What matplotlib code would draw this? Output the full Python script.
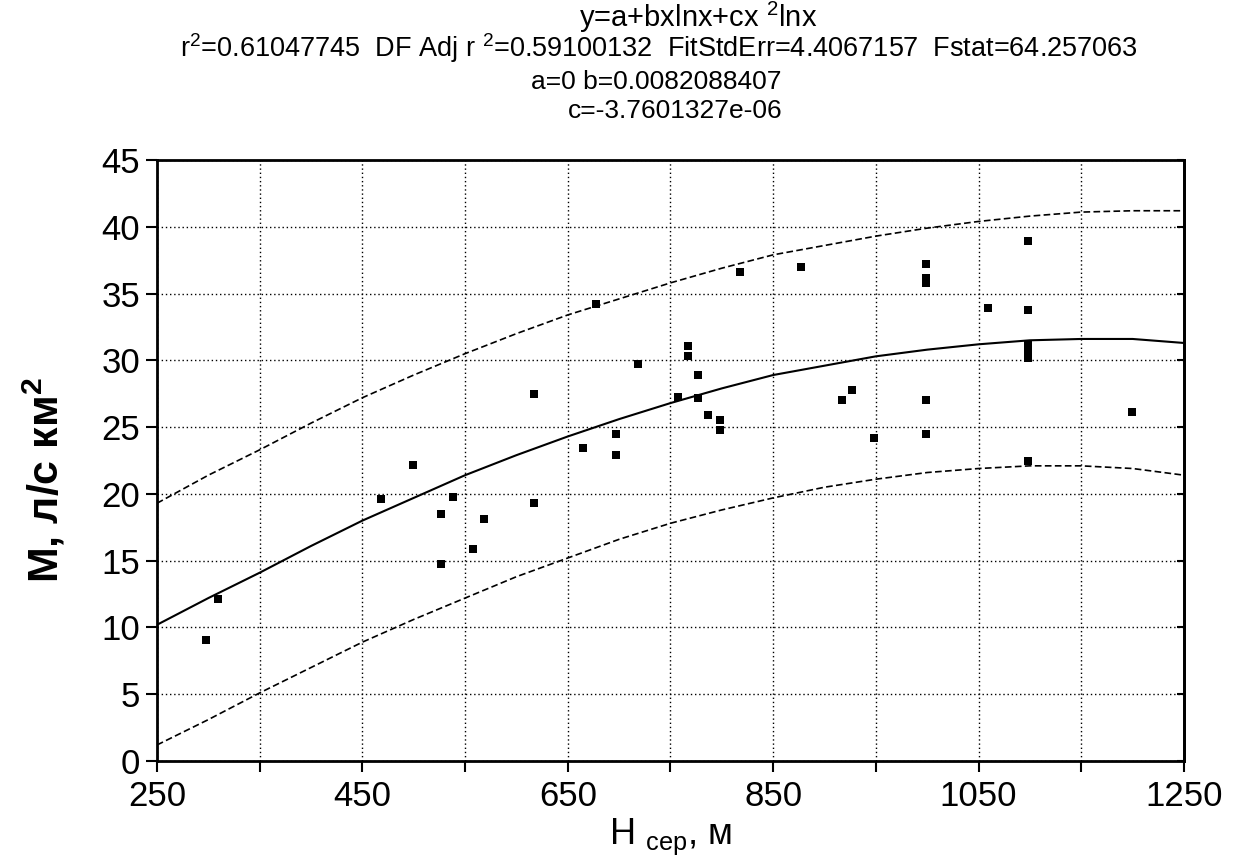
import numpy as np
import matplotlib
matplotlib.use("Agg")
import matplotlib.pyplot as plt

plt.rcParams['font.family'] = ['Liberation Sans', 'DejaVu Sans']
plt.rcParams['mathtext.fontset'] = 'custom'
plt.rcParams['mathtext.rm'] = 'Liberation Sans'
plt.rcParams['mathtext.it'] = 'Liberation Sans'
plt.rcParams['mathtext.bf'] = 'Liberation Sans:bold'

# observed points: H (m) vs M (l/s km2)
h_obs = [298, 309, 468, 499, 527, 527, 538, 558, 568, 617, 617, 665, 697, 697,
         677, 718, 757, 767, 767, 777, 777, 787, 798, 798, 818, 877, 917, 927,
         948, 999, 999, 999, 999, 999, 1059, 1098, 1098, 1098, 1098, 1098, 1098,
         1199]
m_obs = [9.05, 12.13, 19.65, 22.2, 18.5, 14.75, 19.8, 15.9, 18.1, 27.45, 19.3,
         23.4, 24.5, 22.9, 34.2, 29.76, 27.25, 31.1, 30.3, 28.9, 27.2, 25.9,
         25.5, 24.8, 36.6, 37.0, 27.0, 27.8, 24.2, 37.2, 36.2, 35.8, 27.0, 24.5,
         33.9, 38.9, 33.8, 31.2, 30.6, 30.2, 22.5, 26.1]

# fitted curve and band
h_fit = [250, 300, 350, 400, 450, 500, 550, 600, 650, 700, 750, 800, 850, 900,
         950, 1000, 1050, 1100, 1150, 1200, 1250]
m_fit = [10.2, 12.2, 14.1, 16.1, 18.0, 19.7, 21.4, 22.9, 24.3, 25.6, 26.8, 27.9,
         28.9, 29.6, 30.3, 30.8, 31.2, 31.5, 31.6, 31.6, 31.3]
m_upper = [19.3, 21.4, 23.3, 25.3, 27.2, 28.9, 30.5, 32.0, 33.4, 34.6, 35.8,
           36.9, 37.9, 38.6, 39.3, 39.9, 40.4, 40.8, 41.1, 41.2, 41.2]
m_lower = [1.2, 3.1, 5.1, 7.0, 8.9, 10.6, 12.2, 13.8, 15.2, 16.6, 17.8, 18.8,
           19.7, 20.5, 21.1, 21.6, 21.9, 22.1, 22.1, 21.9, 21.4]

W, H = 1236, 858
fig = plt.figure(figsize=(W / 100, H / 100), dpi=100)
ax = fig.add_axes([157 / W, (H - 761) / H, (1184 - 157) / W, (761 - 160) / H])

ax.plot(h_fit, m_upper, color='black', lw=1.2, ls=(0, (4, 2)))
ax.plot(h_fit, m_lower, color='black', lw=1.2, ls=(0, (4, 2)))
ax.plot(h_fit, m_fit, color='black', lw=1.5)
ax.plot(h_obs, m_obs, 's', color='black', ms=5.5, mew=0)

ax.set_xlim(250, 1250)
ax.set_ylim(0, 45)
ax.set_xticks(np.arange(250, 1251, 100))
ax.set_xticklabels(['250', '', '450', '', '650', '', '850', '', '1050', '', '1250'])
ax.set_yticks(np.arange(0, 46, 5))
ax.grid(True, color='black', ls=(0, (1, 2)), lw=1.0)
ax.tick_params(axis='both', labelsize=25, length=8, width=1.5, color='black')
ax.tick_params(axis='x', pad=6)
ax.tick_params(axis='y', pad=4)
for s in ax.spines.values():
    s.set_linewidth(2)

# inward ticks on the right spine
sec = ax.secondary_yaxis('right')
sec.set_yticks(np.arange(0, 46, 5))
sec.tick_params(direction='in', length=5, width=1.5, labelright=False)
sec.spines['right'].set_linewidth(2)

ax.set_xlabel(r'H $_{\mathregular{сер}}$, м', fontsize=26, labelpad=2)
ax.set_ylabel(r'М, л/с км$^{\mathregular{2}}$', fontsize=31, fontweight='bold')
ax.yaxis.set_label_coords(-0.087, 0.468)

fig.text(698 / W, 1 - 17 / H, r'y=a+bxlnx+cx $^{\mathregular{2}}$lnx', fontsize=21, ha='center', va='center')
fig.text(659 / W, 1 - 48 / H,
         r'r$^{\mathregular{2}}$=0.61047745  DF Adj r $^{\mathregular{2}}$=0.59100132  FitStdErr=4.4067157  Fstat=64.257063',
         fontsize=19.5, ha='center', va='center')
fig.text(656 / W, 1 - 82 / H, 'a=0 b=0.0082088407', fontsize=19, ha='center', va='center')
fig.text(675 / W, 1 - 111 / H, 'c=-3.7601327e-06', fontsize=19, ha='center', va='center')

fig.savefig('out.png', dpi=100)
